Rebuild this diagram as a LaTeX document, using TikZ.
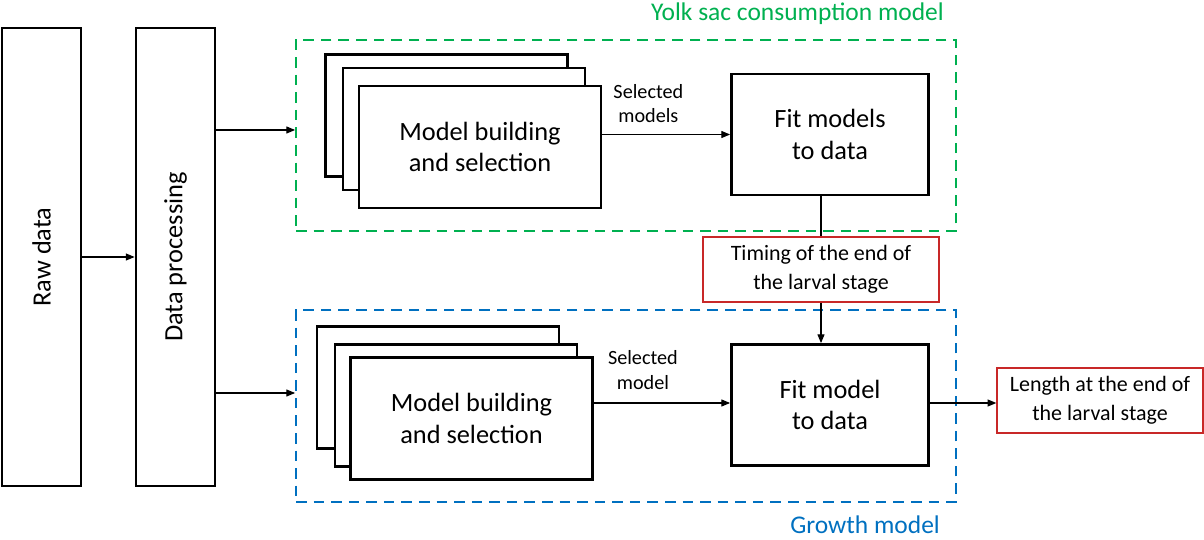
\documentclass[tikz,border=0pt]{standalone}
\usepackage{fontspec}
\setmainfont{Carlito}
\usepackage{xcolor}
\usetikzlibrary{arrows.meta}

\definecolor{yolkgreen}{RGB}{0,176,80}
\definecolor{growblue}{RGB}{0,112,192}
\definecolor{outred}{RGB}{200,40,40}

\begin{document}
\begin{tikzpicture}[x=0.02cm, y=-0.02cm,
        stage/.style={draw, line width=1.6pt, fill=white, align=center, inner sep=0pt},
        tall/.style={stage, minimum width=1.58cm, minimum height=9.16cm, font=\fontsize{15}{18}\selectfont},
        stack/.style={stage, minimum width=4.84cm, minimum height=2.44cm, font=\fontsize{15}{18}\selectfont},
        fitbox/.style={stage, minimum width=3.94cm, minimum height=2.42cm, font=\fontsize{15}{18}\selectfont},
        result/.style={draw=outred, line width=0.8pt, fill=white, align=center, inner sep=0pt,
                       minimum height=1.3cm, font=\fontsize{12.5}{16.5}\selectfont},
        frame/.style={dashed, dash pattern=on 6pt off 4pt, line width=1.1pt, inner sep=0pt,
                      minimum width=13.2cm, minimum height=3.83cm},
        flow/.style={line width=0.6pt, -{Triangle[length=5pt, width=4pt]}}]
                \useasboundingbox (0, 0) rectangle (1204, 540);

                % left column
                \node[tall] (RD) at (41.5, 257){\rotatebox{90}{Raw data}};
                \node[tall] (DP) at (175.5, 257){\rotatebox{90}{Data processing}};

                % dashed model frames
                \node[frame, draw=yolkgreen] (YOLK) at (626, 135.5){};
                \node[frame, draw=growblue] (GROW) at (626, 406){};
                \node[anchor=east, text=yolkgreen, font=\fontsize{14.5}{17}\selectfont] (YT) at (950, 14){Yolk sac consumption model};
                \node[anchor=east, text=growblue, font=\fontsize{14.5}{17}\selectfont] (GT) at (946, 525){Growth model};

                % yolk sac model
                \node[stack] (MA1) at (446.5, 115.5){};
                \node[stack] (MA2) at (464, 129){};
                \node[stack] (MA3) at (480, 147){Model building\\and selection};
                \node[fitbox] (FIT1) at (830, 134.5){Fit models\\to data};

                % growth model
                \node[stack] (MB1) at (438, 387.5){};
                \node[stack] (MB2) at (456, 405.5){};
                \node[stack] (MB3) at (471.5, 418.5){Model building\\and selection};
                \node[fitbox] (FIT2) at (830, 405){Fit model\\to data};

                % outputs
                \node[result, minimum width=4.72cm] (TIME) at (821, 269.5){Timing of the end of\\the larval stage};
                \node[result, minimum width=4.12cm] (LEN) at (1100, 400.5){Length at the end of\\the larval stage};

                \draw[flow] (RD) -- (DP);
                \draw[flow] (DP.east |- 0, 130) -- (YOLK.west |- 0, 130);
                \draw[flow] (DP.east |- 0, 393) -- (GROW.west |- 0, 393);

                \draw[flow] (MA3.east |- FIT1) -- node[pos=0.36, above=3pt, font=\fontsize{11.5}{14}\selectfont, align=center]{Selected\\models} (FIT1);
                \draw[flow] (MB3.east |- 0, 403) -- node[pos=0.36, above=4pt, font=\fontsize{11.5}{14}\selectfont, align=center]{Selected\\model} (FIT2.west |- 0, 403);

                \draw[line width=0.6pt] (TIME.north |- FIT1.south) -- (TIME.north);
                \draw[flow] (TIME.south) -- (TIME.south |- FIT2.north);
                \draw[flow] (FIT2.east |- 0, 403) -- (LEN.west |- 0, 403);
            \end{tikzpicture}
\end{document}
